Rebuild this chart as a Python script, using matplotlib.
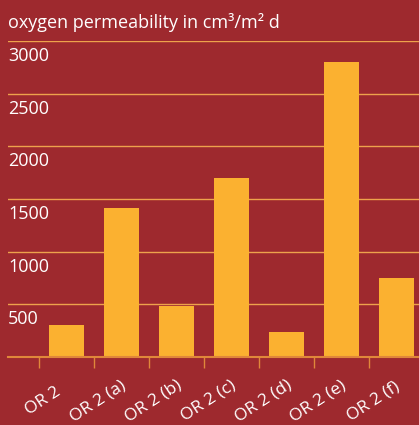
import numpy as np
import matplotlib.pyplot as plt

categories = ['OR 2', 'OR 2 (a)', 'OR 2 (b)', 'OR 2 (c)', 'OR 2 (d)', 'OR 2 (e)', 'OR 2 (f)']
values = [300, 1410, 480, 1700, 240, 2800, 750]
y_ticks = [500, 1000, 1500, 2000, 2500, 3000]

BG = '#9e292e'
BAR = '#fbb130'
GRID = '#eea24c'

plt.rcParams['font.family'] = ['Open Sans', 'DejaVu Sans']

fig = plt.figure(figsize=(4.19, 4.25), dpi=100, facecolor=BG)
ax = fig.add_axes([8 / 419, (425 - 357) / 425, 1 - 8 / 419, (357 - 41) / 425])
ax.set_facecolor(BG)

x = np.arange(len(categories))
ax.bar(x, values, width=0.64, color=BAR, zorder=2)

ax.set_ylim(0, 3000)
ax.set_xlim(-1.06, 6.41)

# grid lines with labels sitting just under them
for v in y_ticks:
    ax.axhline(v, color=GRID, linewidth=1, zorder=1)
    ax.annotate(str(v), xy=(0, v), xycoords=('axes fraction', 'data'),
                xytext=(0, -6), textcoords='offset pixels',
                ha='left', va='top', color='white', fontsize=13)

for s in ['top', 'right', 'left']:
    ax.spines[s].set_visible(False)
ax.spines['bottom'].set_color('#e0873a')
ax.spines['bottom'].set_linewidth(1.5)

ax.set_yticks([])
ax.set_xticks(x - 0.5, minor=True)
ax.tick_params(axis='x', which='minor', length=8, color='#e0873a', width=1)
ax.set_xticks(x)
ax.set_xticklabels([])
ax.tick_params(axis='x', which='major', length=0)

# rotated category labels
for xi, name in zip(x, categories):
    ax.annotate(name, xy=(xi, 0), xycoords='data',
                xytext=(-23, -44), textcoords='offset pixels',
                ha='center', va='center', rotation=33, rotation_mode='anchor',
                color='white', fontsize=12.5, annotation_clip=False)

fig.text(8 / 419, 1 - 22 / 425, 'oxygen permeability in cm³/m² d',
         ha='left', va='center', color='white', fontsize=13)

fig.savefig('out.png', dpi=100, facecolor=BG)
